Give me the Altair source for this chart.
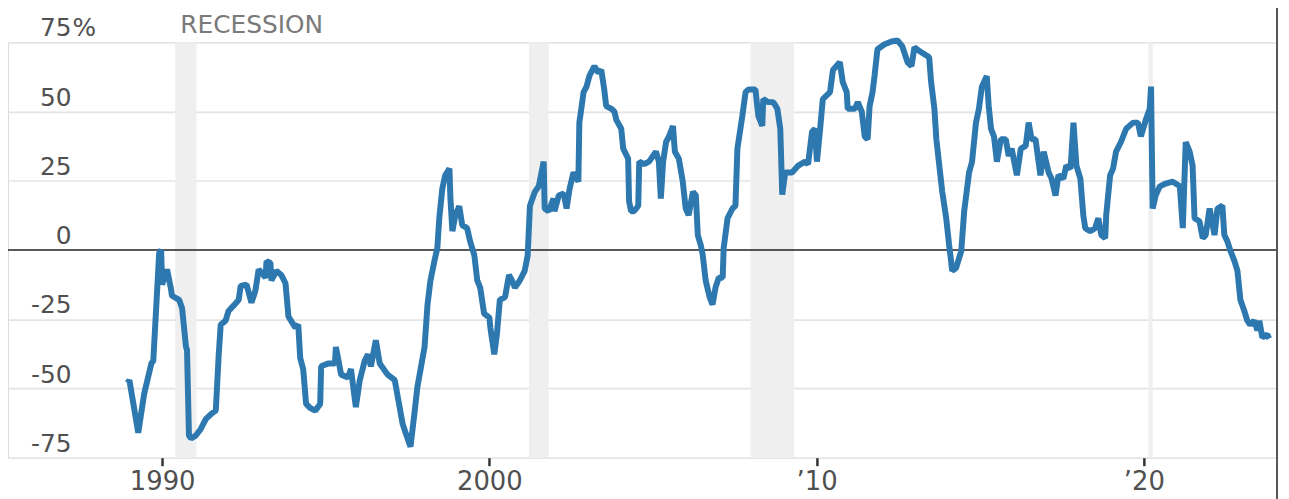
import altair as alt
import pandas as pd

# ---- data ----
years = [
    1988.94, 1989.00, 1989.27, 1989.45, 1989.67, 1989.73, 1989.91, 1989.97, 1990.00, 1990.15,
    1990.27, 1990.30, 1990.52, 1990.61, 1990.73, 1990.76, 1990.82, 1990.88, 1991.03, 1991.18,
    1991.34, 1991.52, 1991.64, 1991.73, 1991.79, 1991.94, 1992.03, 1992.19, 1992.34, 1992.40,
    1992.58, 1992.73, 1992.85, 1992.95, 1993.16, 1993.19, 1993.31, 1993.34, 1993.49, 1993.64,
    1993.77, 1993.86, 1994.07, 1994.16, 1994.22, 1994.31, 1994.40, 1994.52, 1994.68, 1994.83,
    1994.86, 1995.07, 1995.28, 1995.31, 1995.47, 1995.68, 1995.77, 1995.92, 1996.04, 1996.19,
    1996.29, 1996.38, 1996.53, 1996.65, 1996.89, 1997.11, 1997.20, 1997.35, 1997.44, 1997.59,
    1997.71, 1997.80, 1998.02, 1998.11, 1998.20, 1998.32, 1998.41, 1998.47, 1998.56, 1998.65,
    1998.78, 1998.81, 1998.87, 1998.96, 1999.08, 1999.17, 1999.32, 1999.41, 1999.54, 1999.63,
    1999.72, 1999.84, 2000.00, 2000.03, 2000.15, 2000.23, 2000.32, 2000.48, 2000.60, 2000.69,
    2000.78, 2000.93, 2001.08, 2001.17, 2001.24, 2001.39, 2001.51, 2001.66, 2001.69, 2001.81,
    2001.96, 2001.99, 2002.12, 2002.27, 2002.36, 2002.45, 2002.57, 2002.72, 2002.75, 2002.88,
    2002.97, 2003.06, 2003.21, 2003.33, 2003.42, 2003.51, 2003.57, 2003.73, 2003.82, 2003.88,
    2004.03, 2004.09, 2004.24, 2004.27, 2004.33, 2004.42, 2004.55, 2004.58, 2004.73, 2004.88,
    2005.00, 2005.09, 2005.18, 2005.24, 2005.31, 2005.40, 2005.49, 2005.61, 2005.67, 2005.79,
    2005.91, 2006.00, 2006.09, 2006.22, 2006.31, 2006.37, 2006.46, 2006.52, 2006.61, 2006.73,
    2006.82, 2006.91, 2007.01, 2007.13, 2007.16, 2007.28, 2007.43, 2007.52, 2007.58, 2007.73,
    2007.83, 2007.92, 2008.13, 2008.22, 2008.34, 2008.37, 2008.52, 2008.68, 2008.80, 2008.89,
    2008.95, 2009.04, 2009.25, 2009.44, 2009.65, 2009.74, 2009.86, 2009.95, 2010.01, 2010.10,
    2010.19, 2010.41, 2010.50, 2010.71, 2010.80, 2010.92, 2010.95, 2011.17, 2011.26, 2011.38,
    2011.47, 2011.56, 2011.62, 2011.71, 2011.77, 2011.86, 2012.08, 2012.29, 2012.47, 2012.62,
    2012.78, 2012.90, 2012.99, 2013.20, 2013.44, 2013.50, 2013.60, 2013.66, 2013.75, 2013.84,
    2013.96, 2014.05, 2014.11, 2014.14, 2014.26, 2014.42, 2014.51, 2014.66, 2014.75, 2014.87,
    2014.96, 2015.05, 2015.20, 2015.26, 2015.33, 2015.42, 2015.51, 2015.63, 2015.78, 2015.87,
    2015.96, 2016.12, 2016.24, 2016.39, 2016.48, 2016.57, 2016.69, 2016.84, 2016.94, 2017.09,
    2017.18, 2017.30, 2017.39, 2017.54, 2017.63, 2017.76, 2017.85, 2017.94, 2018.06, 2018.15,
    2018.21, 2018.36, 2018.51, 2018.61, 2018.70, 2018.82, 2018.85, 2018.97, 2019.06, 2019.15,
    2019.30, 2019.46, 2019.67, 2019.82, 2019.91, 2020.06, 2020.18, 2020.22, 2020.27, 2020.36,
    2020.49, 2020.67, 2020.88, 2021.10, 2021.19, 2021.28, 2021.40, 2021.49, 2021.55, 2021.70,
    2021.80, 2021.89, 2022.01, 2022.16, 2022.25, 2022.40, 2022.46, 2022.55, 2022.65, 2022.77,
    2022.86, 2022.95, 2023.07, 2023.16, 2023.25, 2023.37, 2023.47, 2023.53, 2023.62, 2023.77,
    2023.83,
]
values = [
    -48, -47, -66, -52, -41, -40, -1, 0, -12.5, -7,
    -14, -16.5, -18, -21, -35, -36, -67, -68, -67, -64.6,
    -61, -59, -58, -37.7, -27, -25.5, -22, -20, -18, -13,
    -12.5, -19, -14.7, -7, -10, -4, -4.7, -11, -7.5, -9,
    -12, -24, -28, -27, -39, -43, -55.6, -57, -58, -55.6,
    -42, -41, -41, -35, -45, -46, -43, -56.7, -47, -40,
    -37.7, -42, -32.6, -41, -45, -47, -53, -62.8, -66, -71,
    -59, -49.5, -35, -19.7, -11, -4, 0.7, 11.5, 22, 27,
    29.4, 18.6, 6.8, 12.6, 15.8, 9, 7.9, 3.2, -1.8, -11,
    -13.6, -23, -24.4, -28, -37.7, -30.5, -18, -17, -9, -11,
    -13.6, -11, -7.5, -2, 16, 21, 23, 31.9, 15, 14,
    18.6, 14, 19.7, 20.4, 15, 22, 28, 24.7, 46, 57,
    59, 63, 66.4, 64, 65, 58, 52, 51, 50, 47,
    43.8, 36.6, 33, 17.6, 14, 14, 16, 31.9, 31, 31.9,
    34, 35.5, 31.9, 18.6, 31.9, 39, 41, 44.8, 35.5, 33,
    24.7, 15, 12.6, 21, 19.7, 5.4, 1.8, -1.8, -11, -17,
    -19.7, -13.6, -10, -10, 0.7, 11.5, 15, 16, 36.6, 48.4,
    57, 58, 58, 48.4, 44.8, 54.5, 53.4, 53.4, 51, 43.8,
    20, 28, 28, 30.5, 31.9, 31, 42.7, 43.8, 31.9, 42.7,
    54.5, 57, 65, 67.8, 60.6, 57, 51, 51, 53.4, 50,
    41, 40, 52, 57, 62.8, 72.5, 74.3, 75.3, 75.7, 73.5,
    67.8, 66.4, 73.2, 71.4, 69.6, 60.6, 51, 40, 30.5, 21,
    11.5, 1.8, -4, -7.5, -6.5, -0.4, 14, 28, 31.9, 46,
    51, 59, 62.8, 52, 43.8, 41, 31.9, 40, 40, 34,
    36.6, 27, 36.6, 37.6, 46, 40, 40, 27, 35.5, 28,
    25.8, 19.7, 27, 25.8, 30.5, 29.4, 46, 30.5, 25.8, 12.6,
    7.9, 6.8, 7.9, 11.5, 5.4, 4.3, 12.6, 27, 29.4, 35.5,
    39, 43.8, 46, 46, 41, 47, 51, 59, 15, 19.7,
    23, 24, 24.7, 23, 7.9, 39, 35.5, 30.5, 11.5, 10.4,
    4.3, 5.4, 15, 5.4, 15, 16, 5.4, 3.2, -0.4, -4,
    -7.5, -18, -22, -25.5, -27, -25.5, -29, -25.5, -31.6, -30.5,
    -32,
]

rec_start = [1990.40, 2001.21, 2007.98, 2020.14]
rec_end = [1991.05, 2001.81, 2009.31, 2020.27]

y_ticks = [75, 50, 25, 0, -25, -50, -75]
y_labels = ["75", "50", "25", "0", "-25", "-50", "-75"]
x_ticks = [1990, 2000, 2010, 2020]
x_labels = ["1990", "2000", "\u201910", "\u201920"]

X_MIN, X_MAX = 1985.29, 2024.07
W, H = 1277, 418
FONT = "DejaVu Sans"
LINE = "#2e78b0"
TXT = "#505050"

df = pd.DataFrame({"year": years, "value": values})
rec = pd.DataFrame({"start": rec_start, "end": rec_end})
ylab = pd.DataFrame({"v": y_ticks, "label": y_labels})

label_expr = " : ".join(
    f"datum.value == {t} ? '{l}'" for t, l in zip(x_ticks, x_labels)
) + " : ''"

xscale = alt.Scale(domain=[X_MIN, X_MAX], nice=False, zero=False)
yscale = alt.Scale(domain=[-75, 75], nice=False, zero=False)

xaxis = alt.Axis(
    values=x_ticks, labelExpr=label_expr, title=None, grid=False, domain=False,
    ticks=True, tickSize=8, tickWidth=2.5, tickColor="#333333",
    labelFont=FONT, labelFontSize=26, labelColor=TXT, labelPadding=3,
)
yaxis = alt.Axis(
    values=[-75, -50, -25, 25, 50, 75], title=None, grid=True, gridColor="#e4e4e4",
    gridWidth=1.6, labels=False, ticks=False, domain=False,
)

bands = alt.Chart(rec).mark_rect(color="#efefef").encode(
    x=alt.X("start:Q", scale=xscale, axis=xaxis),
    x2="end:Q",
    y=alt.value(0),
    y2=alt.value(H),
)

grid = alt.Chart(ylab).mark_rule(opacity=0).encode(
    y=alt.Y("v:Q", scale=yscale, axis=yaxis),
)

zero = alt.Chart(pd.DataFrame({"z": [0]})).mark_rule(color="#222222", strokeWidth=1.5).encode(
    y=alt.Y("z:Q", scale=yscale),
)

line = alt.Chart(df).mark_line(color=LINE, strokeWidth=6, strokeJoin="bevel").encode(
    x=alt.X("year:Q", scale=xscale),
    y=alt.Y("value:Q", scale=yscale),
)

ytext = alt.Chart(ylab).mark_text(
    align="right", baseline="alphabetic", dy=-6, font=FONT, fontSize=25, color=TXT
).encode(
    x=alt.value(64),
    y=alt.Y("v:Q", scale=yscale),
    text="label:N",
)

pct = alt.Chart(pd.DataFrame({"v": [75], "t": ["%"]})).mark_text(
    align="left", baseline="alphabetic", dy=-6, dx=1, font=FONT, fontSize=25, color=TXT
).encode(
    x=alt.value(64),
    y=alt.Y("v:Q", scale=yscale),
    text="t:N",
)

rec_label = alt.Chart(pd.DataFrame({"s": [rec_start[0]], "v": [75], "t": ["RECESSION"]})).mark_text(
    align="left", baseline="alphabetic", dx=5, dy=-9, font=FONT, fontSize=25, color="#7a7a7a"
).encode(
    x=alt.X("s:Q", scale=xscale),
    y=alt.Y("v:Q", scale=yscale),
    text="t:N",
)

border = alt.Chart(pd.DataFrame({"b": [X_MAX]})).mark_rule(color="#555555", strokeWidth=2).encode(
    x=alt.X("b:Q", scale=xscale),
    y=alt.value(-41),
    y2=alt.value(H + 45),
)

chart = alt.layer(bands, grid, zero, line, ytext, pct, rec_label, border).properties(
    width=W, height=H,
    autosize=alt.AutoSizeParams(type="none"),
    padding={"left": 0, "top": 33, "right": 4, "bottom": 40},
).configure_view(stroke=None).configure(background="white")

chart.save("out.html", embed_options={"renderer": "svg", "actions": False})
